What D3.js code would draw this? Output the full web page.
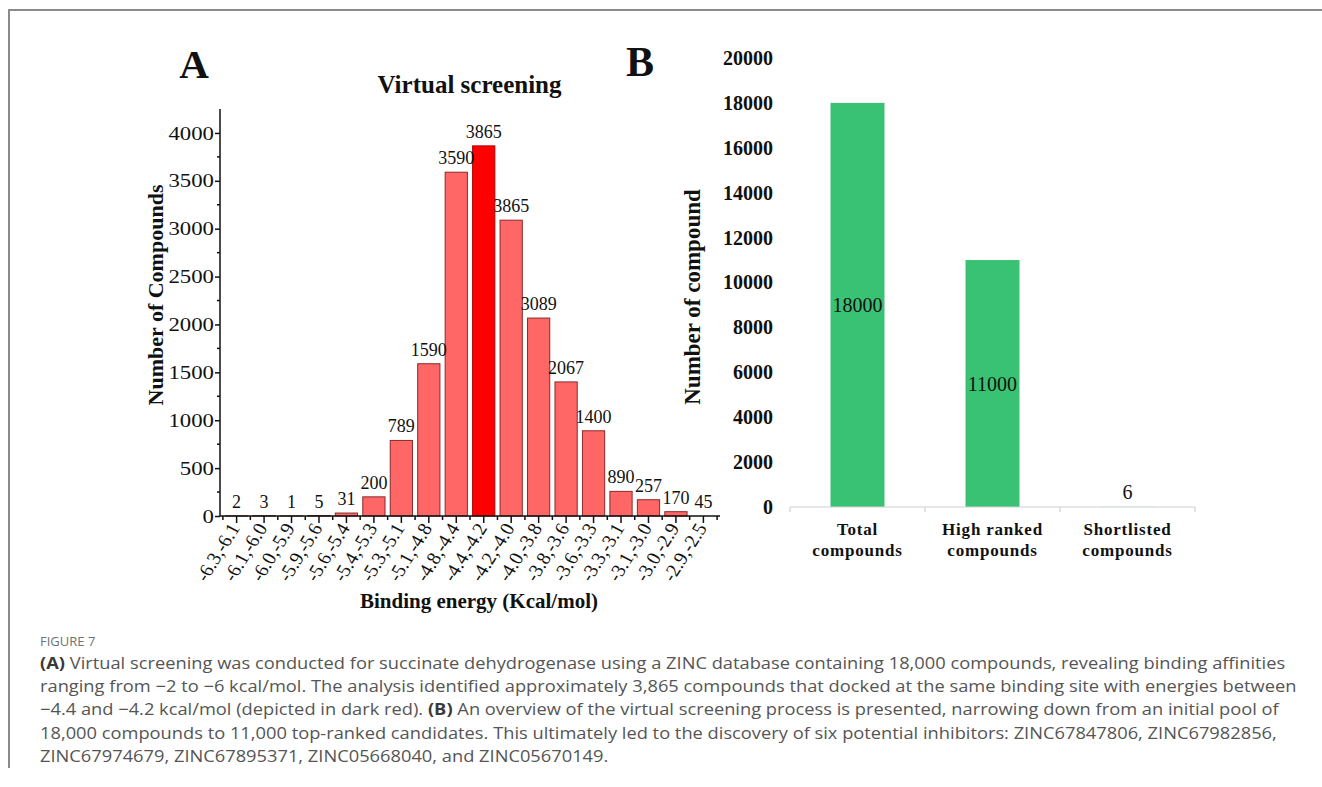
<!DOCTYPE html>
<html><head><meta charset="utf-8">
<script src="https://cdn.jsdelivr.net/npm/d3@7"></script>
<style>
body{margin:0;background:#fff;}
svg{display:block;}
</style></head>
<body>
<svg id="c" width="1322" height="787"></svg>
<script>
// Panel A data
const energyBins = ["-6.3,-6.1","-6.1,-6.0","-6.0,-5.9","-5.9,-5.6","-5.6,-5.4","-5.4,-5.3","-5.3,-5.1","-5.1,-4.8","-4.8,-4.4","-4.4,-4.2","-4.2,-4.0","-4.0,-3.8","-3.8,-3.6","-3.6,-3.3","-3.3,-3.1","-3.1,-3.0","-3.0,-2.9","-2.9,-2.5"];
const binCounts = [2,3,1,5,31,200,789,1590,3590,3865,3089,2067,1400,890,257,170,45,0];
const binLabels = ["2","3","1","5","31","200","789","1590","3590","3865","3865","3089","2067","1400","890","257","170","45"];
const highlightBin = "-4.4,-4.2";
const yTicksA = [0,500,1000,1500,2000,2500,3000,3500,4000];

// Panel B data
const stages = [["Total","compounds"],["High ranked","compounds"],["Shortlisted","compounds"]];
const stageCounts = [18000,11000,6];
const yTicksB = [0,2000,4000,6000,8000,10000,12000,14000,16000,18000,20000];

const captionLines = [
 ["(A)"," Virtual screening was conducted for succinate dehydrogenase using a ZINC database containing 18,000 compounds, revealing binding affinities"],
 ["ranging from \u22122 to \u22126 kcal/mol. The analysis identified approximately 3,865 compounds that docked at the same binding site with energies between"],
 ["\u22124.4 and \u22124.2 kcal/mol (depicted in dark red). ","(B)"," An overview of the virtual screening process is presented, narrowing down from an initial pool of"],
 ["18,000 compounds to 11,000 top-ranked candidates. This ultimately led to the discovery of six potential inhibitors: ZINC67847806, ZINC67982856,"],
 ["ZINC67974679, ZINC67895371, ZINC05668040, and ZINC05670149."]
];

const svg = d3.select("#c");
const serif = "'Liberation Serif','Times New Roman',serif";
const ink = "#111";

// frame
svg.append("path").attr("d","M9,768 L9,10 L1322,10").attr("fill","none").attr("stroke","#8a8a8a").attr("stroke-width",2);

// ---------- Panel A ----------
const xA = d3.scaleBand().domain(energyBins).range([220,720]).paddingInner(0.19).paddingOuter(0.2);
const yA = d3.scaleLinear().domain([0,4250]).range([516,109]);
const gA = svg.append("g");

gA.selectAll("rect.bar").data(energyBins).join("rect")
  .attr("x",d=>xA(d)).attr("width",xA.bandwidth())
  .attr("y",(d,i)=>yA(binCounts[i])).attr("height",(d,i)=>yA(0)-yA(binCounts[i]))
  .attr("fill",d=>d===highlightBin?"#ff0000":"#ff6666")
  .attr("stroke",d=>d===highlightBin?"#b00000":"#8a2a2a").attr("stroke-width",1);

gA.selectAll("text.val").data(energyBins).join("text")
  .attr("x",d=>xA(d)+xA.bandwidth()/2).attr("y",(d,i)=>yA(binCounts[i])-8)
  .attr("text-anchor","middle").attr("font-family",serif).attr("font-size",18).attr("fill",ink)
  .text((d,i)=>binLabels[i]);

// y axis A
const yAxA = d3.axisLeft(yA).tickValues(yTicksA).tickSize(5).tickFormat(d3.format("d"));
const gyA = gA.append("g").attr("transform","translate(220,0)").call(yAxA);
gyA.select(".domain").attr("d","M0,109V516").attr("stroke",ink).attr("stroke-width",1.5);
gyA.selectAll(".tick line").attr("stroke",ink).attr("stroke-width",1.5);
gyA.selectAll(".tick text").attr("x",0).attr("transform","translate(-6,0) scale(1.2,1)")
  .attr("font-family",serif).attr("font-size",19).attr("fill",ink);
const minorA = d3.range(250,4250,500);
gyA.selectAll("line.minor").data(minorA).join("line").attr("class","minor")
  .attr("x1",-3).attr("x2",0).attr("y1",d=>yA(d)).attr("y2",d=>yA(d)).attr("stroke",ink).attr("stroke-width",1.5);

// x axis A
const gxA = gA.append("g").attr("transform","translate(0,516)").call(d3.axisBottom(xA).tickSize(7).tickFormat(""));
gxA.select(".domain").attr("d","M220,0H720").attr("stroke",ink).attr("stroke-width",1.5);
gxA.selectAll(".tick line").attr("stroke",ink).attr("stroke-width",1.5);
const step = xA.step();
const bounds = energyBins.map(d=>xA(d)+xA.bandwidth()/2-step/2).concat([xA(energyBins[energyBins.length-1])+xA.bandwidth()/2+step/2]);
gxA.selectAll("line.minor").data(bounds).join("line").attr("class","minor")
  .attr("x1",d=>d).attr("x2",d=>d).attr("y1",0).attr("y2",4).attr("stroke",ink).attr("stroke-width",1.5);
gA.selectAll("text.xl").data(energyBins).join("text")
  .attr("transform",d=>`translate(${xA(d)+xA.bandwidth()/2+4},${528}) scale(1.08,1) rotate(-60)`)
  .attr("text-anchor","end").attr("font-family",serif).attr("font-size",18.5).attr("fill",ink)
  .text(d=>d);

gA.append("text").attr("x",479).attr("y",608).attr("text-anchor","middle").attr("font-family",serif)
  .attr("font-weight","bold").attr("font-size",21).attr("fill",ink).text("Binding energy (Kcal/mol)");
gA.append("text").attr("transform","translate(163,295) rotate(-90)").attr("text-anchor","middle").attr("font-family",serif)
  .attr("font-weight","bold").attr("font-size",22).attr("fill",ink).text("Number of Compounds");
gA.append("text").attr("x",469.5).attr("y",93).attr("text-anchor","middle").attr("font-family",serif)
  .attr("font-weight","bold").attr("font-size",25).attr("fill",ink).text("Virtual screening");
gA.append("text").attr("x",194).attr("y",78).attr("text-anchor","middle").attr("font-family",serif)
  .attr("font-weight","bold").attr("font-size",41).attr("fill",ink).text("A");

// ---------- Panel B ----------
const catB = stages.map(s=>s.join(" "));
const xB = d3.scaleBand().domain(catB).range([790,1195]).paddingInner(0.6).paddingOuter(0.3);
const yB = d3.scaleLinear().domain([0,20000]).range([507,58]);
const gB = svg.append("g");

gB.selectAll("rect").data(catB).join("rect")
  .attr("x",d=>xB(d)).attr("width",xB.bandwidth())
  .attr("y",(d,i)=>yB(stageCounts[i])).attr("height",(d,i)=>yB(0)-yB(stageCounts[i]))
  .attr("fill","#3ac274");

gB.selectAll("text.val").data(catB).join("text")
  .attr("x",d=>xB(d)+xB.bandwidth()/2)
  .attr("y",(d,i)=> stageCounts[i]>1000 ? (yB(stageCounts[i])+yB(0))/2+7 : yB(stageCounts[i])-8)
  .attr("text-anchor","middle").attr("font-family",serif).attr("font-size",20).attr("fill",ink)
  .text((d,i)=>stageCounts[i]);

const gyB = gB.append("g").attr("transform","translate(773,0)").call(d3.axisLeft(yB).tickValues(yTicksB).tickSize(0).tickPadding(0).tickFormat(d3.format("d")));
gyB.select(".domain").remove();
gyB.selectAll(".tick text").attr("font-family",serif).attr("font-weight","bold").attr("font-size",20).attr("fill",ink);

const gxB = gB.append("g").attr("transform","translate(0,507)");
gxB.append("line").attr("x1",790).attr("x2",1195).attr("y1",0).attr("y2",0).attr("stroke","#d0d0d0").attr("stroke-width",1.2);
const bB = [790].concat(catB.map(d=>xB(d)+xB.bandwidth()/2+xB.step()/2));
gxB.selectAll("line.t").data(bB).join("line").attr("x1",d=>d).attr("x2",d=>d).attr("y1",0).attr("y2",5).attr("stroke","#d0d0d0").attr("stroke-width",1.2);
stages.forEach((s,i)=>{
  s.forEach((ln,j)=>{
    gxB.append("text").attr("x",xB(catB[i])+xB.bandwidth()/2).attr("y",28+j*21)
      .attr("text-anchor","middle").attr("font-family",serif).attr("font-weight","bold")
      .attr("font-size",17).attr("letter-spacing",0.8).attr("fill",ink).text(ln);
  });
});
gB.append("text").attr("transform","translate(700,297) rotate(-90)").attr("text-anchor","middle").attr("font-family",serif)
  .attr("font-weight","bold").attr("font-size",23).attr("fill",ink).text("Number of compound");
gB.append("text").attr("x",640).attr("y",76).attr("text-anchor","middle").attr("font-family",serif)
  .attr("font-weight","bold").attr("font-size",42).attr("fill",ink).text("B");

// ---------- Caption ----------
const sans = "'Open Sans',Lato,sans-serif";
svg.append("text").attr("x",40).attr("y",646).attr("font-family",sans).attr("font-size",13).attr("fill","#707070").text("FIGURE 7");
const capG = svg.append("g");
const capTexts = captionLines.map((ln,i)=>{
  const t = capG.append("text").attr("x",0).attr("y",0).attr("font-family",sans).attr("font-size",16.5).attr("fill","#555");
  ln.forEach(seg=>{
    const bold = seg==="(A)"||seg==="(B)";
    t.append("tspan").attr("font-weight",bold?"bold":"normal").attr("fill",bold?"#3a3a3a":"#555").text(seg);
  });
  return t;
});
const len1 = capTexts[0].node().getComputedTextLength();
const sx = 1246/len1;
capTexts.forEach((t,i)=>t.attr("transform",`translate(40,${669+i*23.2}) scale(${sx},1)`));
</script>
</body></html>
